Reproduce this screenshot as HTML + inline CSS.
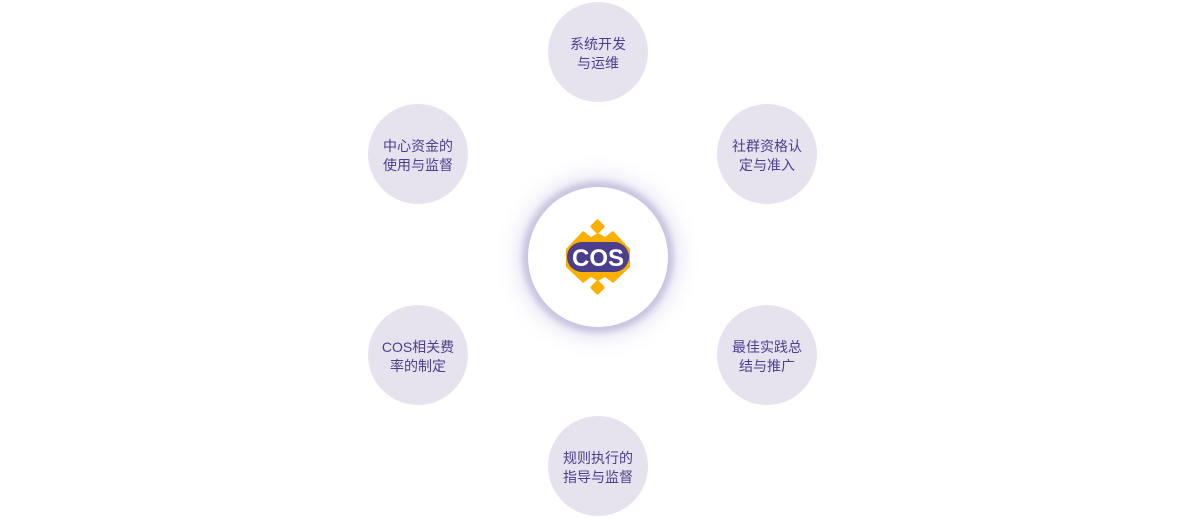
<!DOCTYPE html>
<html><head><meta charset="utf-8"><style>
body{margin:0;width:1194px;height:518px;background:#fff;position:relative;overflow:hidden;font-family:"Liberation Sans","Noto Sans CJK SC",sans-serif}
.c{position:absolute;width:100px;height:100px;border-radius:50%;background:#e6e3ef;color:#4b3f8c;font-size:14px;line-height:19px;display:flex;align-items:center;justify-content:center;text-align:center;box-sizing:border-box;padding-top:3px}
.m{position:absolute;left:528px;top:187px;width:140px;height:140px;border-radius:50%;background:#fff;box-shadow:0 0 6px 6px rgba(120,110,180,.3),0 0 18px 14px rgba(150,140,200,.18)}
</style></head><body>
<div class="c" style="left:548px;top:2px">系统开发<br>与运维</div>
<div class="c" style="left:368px;top:104px">中心资金的<br>使用与监督</div>
<div class="c" style="left:717px;top:104px">社群资格认<br>定与准入</div>
<div class="c" style="left:368px;top:305px">COS相关费<br>率的制定</div>
<div class="c" style="left:717px;top:305px">最佳实践总<br>结与推广</div>
<div class="c" style="left:548px;top:416px">规则执行的<br>指导与监督</div>
<div class="m"></div>
<svg style="position:absolute;left:528px;top:187px" width="140" height="140" viewBox="0 0 140 140">
<rect x="64" y="34" width="11" height="11" rx="2" fill="#fbb000" transform="rotate(45 69.5 39.5)" />
<rect x="64" y="95" width="11" height="11" rx="2" fill="#fbb000" transform="rotate(45 69.5 100.5)" />
<polygon points="55,44 63,50 70,46 77,50 85,44 102,62 102,80 85,96 77,90 70,94 63,90 55,96 38,80 38,62" fill="#fbb000"/>
<rect x="39" y="55" width="62" height="30" rx="15" fill="#4b3f8c"/>
<text x="70" y="79" text-anchor="middle" font-family="Liberation Sans" font-weight="bold" font-size="24" fill="#fff">COS</text>
</svg>
</body></html>
